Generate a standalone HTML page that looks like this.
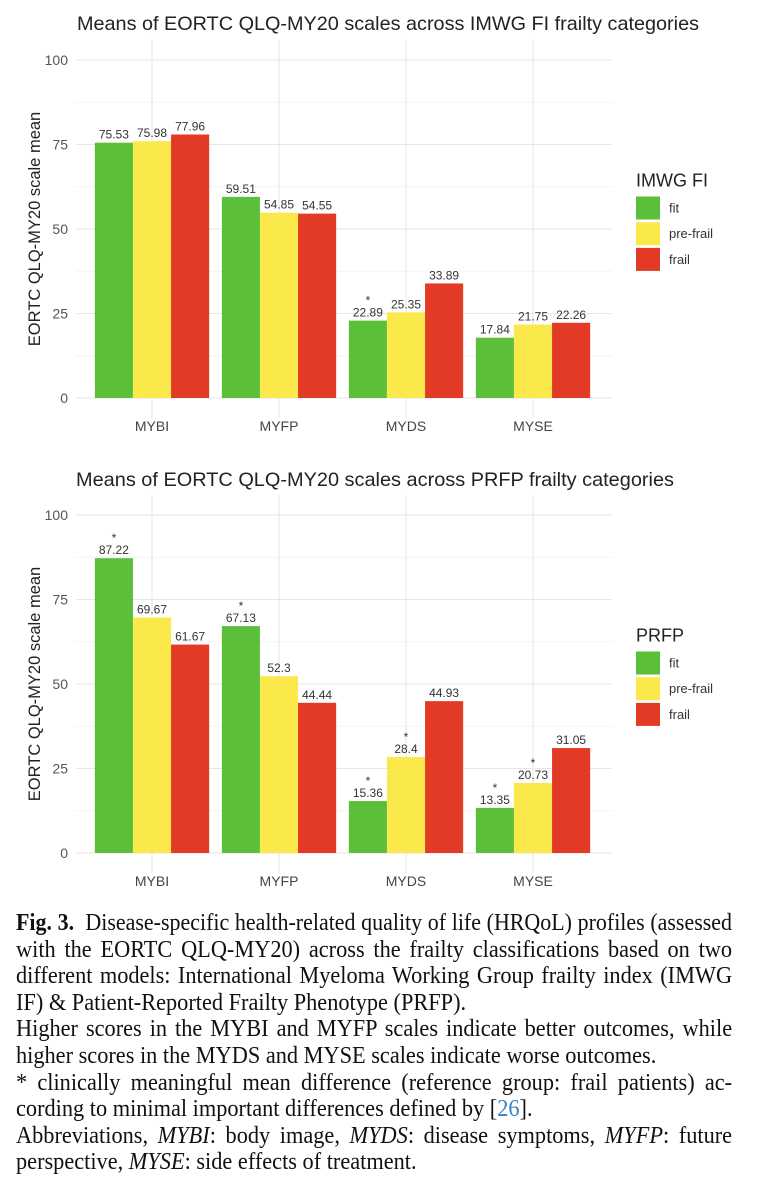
<!DOCTYPE html>
<html><head><meta charset="utf-8"><style>
body{margin:0;background:#fff;width:758px;height:1200px;overflow:hidden;position:relative}
svg text{font-family:"Liberation Sans",sans-serif}
#cap{position:absolute;left:16px;top:910px;width:716px;font-family:"Liberation Serif",serif;font-size:24px;line-height:26.6px;color:#111}
#cap div{width:770px;transform:scaleX(0.93);transform-origin:0 0;text-align:justify;text-align-last:justify;white-space:nowrap;height:26.6px}
#cap div.l{text-align-last:left}
</style></head><body>
<svg id="svg" width="758" height="900" style="position:absolute;left:0;top:0"></svg>
<div id="cap">
<div><b>Fig. 3.</b>&nbsp; Disease-specific health-related quality of life (HRQoL) profiles (assessed</div>
<div>with the EORTC QLQ-MY20) across the frailty classifications based on two</div>
<div>different models: International Myeloma Working Group frailty index (IMWG</div>
<div class="l">IF) &amp; Patient-Reported Frailty Phenotype (PRFP).</div>
<div>Higher scores in the MYBI and MYFP scales indicate better outcomes, while</div>
<div class="l">higher scores in the MYDS and MYSE scales indicate worse outcomes.</div>
<div>* clinically meaningful mean difference (reference group: frail patients) ac-</div>
<div class="l">cording to minimal important differences defined by [<span style="color:#3a7fc1">26</span>].</div>
<div>Abbreviations, <i>MYBI</i>: body image, <i>MYDS</i>: disease symptoms, <i>MYFP</i>: future</div>
<div class="l">perspective, <i>MYSE</i>: side effects of treatment.</div>
</div>
<script>
const capEl=document.getElementById('cap');
document.querySelectorAll('#cap div').forEach(d=>{
  const s=document.createElement('span');s.style.whiteSpace='nowrap';s.style.position='absolute';s.style.visibility='hidden';s.innerHTML=d.innerHTML;
  capEl.appendChild(s);const w=s.getBoundingClientRect().width;s.remove();
  if(w>770){d.style.width=(w+2)+'px';d.style.transform='scaleX('+(716/(w+2))+')';}
});
const categories=["MYBI","MYFP","MYDS","MYSE"];
const groups=["fit","pre-frail","frail"];
const yTicks=[0,25,50,75,100];
const imwgFit=[75.53,59.51,22.89,17.84];
const imwgPre=[75.98,54.85,25.35,21.75];
const imwgFrail=[77.96,54.55,33.89,22.26];
const imwgStar=[[false,false,false],[false,false,false],[true,false,false],[false,false,false]];
const prfpFit=[87.22,67.13,15.36,13.35];
const prfpPre=[69.67,52.3,28.4,20.73];
const prfpFrail=[61.67,44.44,44.93,31.05];
const prfpStar=[[true,false,false],[true,false,false],[true,true,false],[true,true,false]];
const colors=["#5bbf3a","#fbe84a","#e23a24"];
const NS="http://www.w3.org/2000/svg";
const svg=document.getElementById('svg');
function mk(tag,attrs,parent,txt){const e=document.createElementNS(NS,tag);for(const k in attrs)e.setAttribute(k,attrs[k]);if(txt!=null)e.textContent=txt;parent.appendChild(e);return e;}
function chart(prefix,top,zeroY,title,titleX,titleW,legTitle,series,stars){
  const g=mk('g',{},svg);
  
  
  const x0=76,x1=612,step=127,c0=152;
  const y=v=>zeroY-v*3.38;
  const cx=i=>c0+i*step;
  const t=mk('text',{x:titleX,y:top,'text-anchor':'middle','font-size':19.5,fill:'#222',textLength:titleW,lengthAdjust:'spacingAndGlyphs'},g,title);
  
  
  for(let v=12.5;v<=100;v+=25){const l=mk('line',{x1:x0,x2:x1,y1:y(v),y2:y(v),stroke:'#f0f0f0','stroke-width':0.7},g);}
  yTicks.forEach(v=>{const l=mk('line',{x1:x0,x2:x1,y1:y(v),y2:y(v),stroke:'#e6e6e6','stroke-width':1},g);
    const tt=mk('text',{x:68,y:y(v)+5,'text-anchor':'end','font-size':14,fill:'#555'},g,String(v));});
  categories.forEach((c,i)=>{const l=mk('line',{x1:cx(i),x2:cx(i),y1:y(106),y2:zeroY+20,stroke:'#e6e6e6','stroke-width':1},g);
    const tt=mk('text',{x:cx(i),y:zeroY+33,'text-anchor':'middle','font-size':14,fill:'#444'},g,c);});
  const yt=mk('text',{x:0,y:0,'text-anchor':'middle','font-size':16.5,fill:'#222',transform:`translate(40,${y(50)}) rotate(-90)`},g,'EORTC QLQ-MY20 scale mean');
  
  const bw=38.1;
  categories.forEach((c,i)=>{series.forEach((s,j)=>{const v=s[i];const bx=cx(i)-1.5*bw+j*bw;
    const r=mk('rect',{x:bx,y:y(v),width:bw,height:zeroY-y(v),fill:colors[j]},g);
    
    const tl=mk('text',{x:bx+bw/2,y:y(v)-4,'text-anchor':'middle','font-size':12,fill:'#333'},g,String(v));
    
    if(stars[i][j]){const st=mk('text',{x:bx+bw/2,y:y(v)-16,'text-anchor':'middle','font-size':12,fill:'#333'},g,'*');}
  });});
  const lt=y(75)+52;
  const lg=mk('g',{},g);
  const ltt=mk('text',{x:636,y:lt-10,'font-size':18,fill:'#222'},lg,legTitle);
  groups.forEach((gn,j)=>{const e=mk('g',{},lg);
    mk('rect',{x:636,y:lt+j*25.7,width:24,height:23,fill:colors[j]},e);
    mk('text',{x:669,y:lt+j*25.7+16,'font-size':13,fill:'#333'},e,gn);});
}
chart('imwg',30,398,'Means of EORTC QLQ-MY20 scales across IMWG FI frailty categories',388,622,'IMWG FI',[imwgFit,imwgPre,imwgFrail],imwgStar);
chart('prfp',486,853,'Means of EORTC QLQ-MY20 scales across PRFP frailty categories',375,598,'PRFP',[prfpFit,prfpPre,prfpFrail],prfpStar);
</script>
</body></html>
